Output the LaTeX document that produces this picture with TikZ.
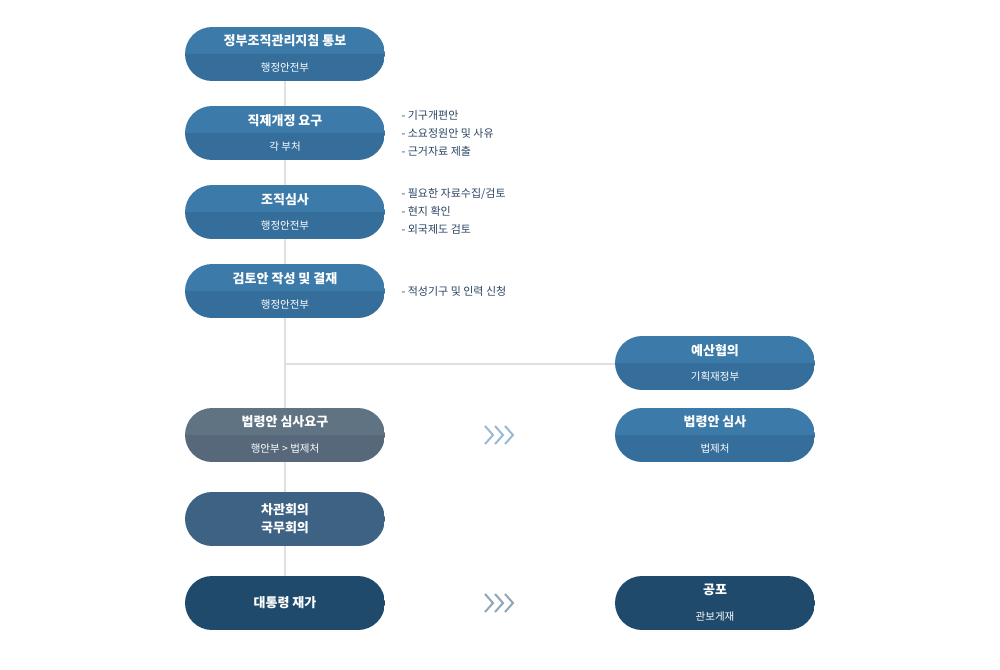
\documentclass[tikz,border=0pt]{standalone}
\usepackage{fontspec}
\setmainfont{Noto Sans CJK KR}
\usetikzlibrary{positioning}
\definecolor{bluetop}{HTML}{3B7AA9}
\definecolor{bluebot}{HTML}{356D9B}
\definecolor{graytop}{HTML}{5F7383}
\definecolor{graybot}{HTML}{566879}
\definecolor{midblue}{HTML}{3D6283}
\definecolor{darkblue}{HTML}{1F4A6C}
\definecolor{notecol}{HTML}{2B4563}
\definecolor{linecol}{HTML}{E0E0E0}
\definecolor{chevlight}{HTML}{9AB8D4}
\definecolor{chevdark}{HTML}{8FA5BA}
% pill: name, x, y, upper colour, lower colour
\newcommand{\pillbox}[5]{%
  \begin{scope}
    \clip[rounded corners=27] (#2-100,#3-27) rectangle (#2+100,#3+27);
    \fill[#4] (#2-100,#3-27) rectangle (#2+100,#3);
    \fill[#5] (#2-100,#3) rectangle (#2+100,#3+27);
  \end{scope}
  \coordinate (#1) at (#2,#3);}
\begin{document}
\begin{tikzpicture}[x=1pt, y=-1pt,
    title/.style = {text=white, font=\fontsize{13}{15}\selectfont\bfseries},
    sub/.style   = {text=white, font=\fontsize{10.5}{12}\selectfont},
    note/.style  = {text=notecol, font=\fontsize{11}{18}\selectfont, align=left, anchor=west},
    chev/.style  = {line width=2pt, line join=miter}
                        ]
\useasboundingbox (0,0) rectangle (1000,669);
% connectors
\coordinate (top) at (285,81);
\coordinate (bot) at (285,576);
\coordinate (fork) at (285,364);
\coordinate (forkend) at (615,364);
\draw[linecol, line width=2pt] (top) -- (bot);
\draw[linecol, line width=1.5pt] (fork) -- (forkend);
% left column
\pillbox{notice}{285}{54}{bluetop}{bluebot}
\pillbox{request}{285}{133}{bluetop}{bluebot}
\pillbox{review}{285}{212}{bluetop}{bluebot}
\pillbox{draft}{285}{291}{bluetop}{bluebot}
\pillbox{legal}{285}{435}{graytop}{graybot}
\pillbox{council}{285}{519}{midblue}{midblue}
\pillbox{approve}{285}{603}{darkblue}{darkblue}
% right column
\pillbox{budget}{715}{363}{bluetop}{bluebot}
\pillbox{legalrev}{715}{435}{bluetop}{bluebot}
\pillbox{publish}{715}{603}{darkblue}{darkblue}
% texts
\node[title] at (285,41) {정부조직관리지침 통보};
\node[sub]   at (285,68) {행정안전부};
\node[title] at (285,121) {직제개정 요구};
\node[sub]   at (285,147) {각 부처};
\node[title] at (285,200) {조직심사};
\node[sub]   at (285,226) {행정안전부};
\node[title] at (285,279) {검토안 작성 및 결재};
\node[sub]   at (285,305) {행정안전부};
\node[title] at (285,422) {법령안 심사요구};
\node[sub]   at (285,449) {행안부 > 법제처};
\node[title, align=center, font=\fontsize{13}{18}\selectfont\bfseries] at (council) {차관회의\\국무회의};
\node[title] at (approve) {대통령 재가};
\node[title] at (715,351) {예산협의};
\node[sub]   at (715,377) {기획재정부};
\node[title] at (715,422) {법령안 심사};
\node[sub]   at (715,449) {법제처};
\node[title] at (715,590) {공포};
\node[sub]   at (715,617) {관보게재};
% notes
\node[note] (notereq) at (398,133) {- 기구개편안\\- 소요정원안 및 사유\\- 근거자료 제출};
\node[note] (noterev) at (398,211) {- 필요한 자료수집/검토\\- 현지 확인\\- 외국제도 검토};
\node[note] (notedraft) at (398,291) {- 적성기구 및 인력 신청};
% chevrons
\foreach \dx in {0,10,20}{
  \draw[chev, chevlight] (485+\dx,426) -- (493+\dx,435) -- (485+\dx,444);
  \draw[chev, chevdark] (485+\dx,594) -- (493+\dx,603) -- (485+\dx,612);
}
\end{tikzpicture}
\end{document}
